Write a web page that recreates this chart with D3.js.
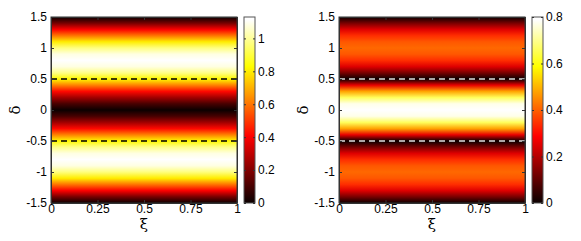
<!DOCTYPE html>
<html><head><meta charset="utf-8">
<script src="https://cdn.jsdelivr.net/npm/d3@7"></script>
<style>
body{margin:0;background:#fff;}
text{font-family:"Liberation Sans",Arial,sans-serif;font-size:12px;fill:#000;}
.greek{font-family:"DejaVu Serif","Liberation Serif",serif;font-size:15px;}
</style></head>
<body><svg id="c" width="581" height="241"></svg>
<script>
// δ sample positions
const delta = [-1.5,-1.4,-1.3,-1.2,-1.1,-1.0,-0.9,-0.8,-0.7,-0.6,-0.5,-0.4,-0.3,-0.2,-0.1,0,
  0.1,0.2,0.3,0.4,0.5,0.6,0.7,0.8,0.9,1.0,1.1,1.2,1.3,1.4,1.5];
// left panel intensity (constant along ξ)
const leftValues = [0,0.18,0.40,0.60,0.80,0.97,1.08,1.12,1.08,0.98,0.82,0.62,0.42,0.25,0.10,0,
  0.10,0.25,0.42,0.62,0.82,0.98,1.08,1.12,1.08,0.97,0.80,0.60,0.40,0.18,0];
// right panel intensity
const rightValues = [0,0.13,0.25,0.34,0.39,0.41,0.39,0.34,0.25,0.13,0,0.26,0.48,0.66,0.77,0.80,
  0.77,0.66,0.48,0.26,0,0.13,0.25,0.34,0.39,0.41,0.39,0.34,0.25,0.13,0];
const xTicks = [0,0.25,0.5,0.75,1];
const xTickLabels = ["0","0.25","0.5","0.75","1"];
const yTicks = [-1.5,-1,-0.5,0,0.5,1,1.5];
const yTickLabels = ["-1.5","-1","-0.5","0","0.5","1","1.5"];
const dashedAt = [-0.5,0.5];
const leftCbTicks = [0,0.2,0.4,0.6,0.8,1];
const leftCbLabels = ["0","0.2","0.4","0.6","0.8","1"];
const rightCbTicks = [0,0.2,0.4,0.6,0.8];
const rightCbLabels = ["0","0.2","0.4","0.6","0.8"];
const leftMax = 1.13, rightMax = 0.8;

function hot(t){
  t = Math.max(0,Math.min(1,t));
  const r = Math.min(1, (t*64+1)/24);
  const g = Math.max(0, Math.min(1, (t*64-23)/24));
  const b = Math.max(0, Math.min(1, (t*64-47)/16));
  return d3.rgb(Math.round(r*255),Math.round(g*255),Math.round(b*255)).toString();
}

const svg = d3.select("#c");
const defs = svg.append("defs");
const FONT = '"Liberation Sans",Arial,sans-serif';

function panel(id, x0, values, vmax, dashColor, cbTicks, cbLabels){
  const top=17, bottom=203, w=186;
  const x = d3.scaleLinear().domain([0,1]).range([x0, x0+w]);
  const y = d3.scaleLinear().domain([-1.5,1.5]).range([bottom, top]);
  const c = d3.scaleLinear().domain([0,vmax]).range([0,1]);
  const gid = "g"+id;
  const grad = defs.append("linearGradient").attr("id",gid)
    .attr("gradientUnits","userSpaceOnUse").attr("x1",0).attr("x2",0)
    .attr("y1",y(-1.5)).attr("y2",y(1.5));
  grad.selectAll("stop").data(delta).join("stop")
    .attr("offset",(d)=> (d+1.5)/3)
    .attr("stop-color",(d,i)=>hot(c(values[i])));
  svg.append("rect").attr("x",x(0)).attr("y",y(1.5))
    .attr("width",x(1)-x(0)).attr("height",y(-1.5)-y(1.5)).attr("fill",`url(#${gid})`);
  svg.selectAll(null).data(dashedAt).join("line")
    .attr("x1",x(0)).attr("x2",x(1)).attr("y1",d=>y(d)).attr("y2",d=>y(d))
    .attr("stroke",dashColor).attr("stroke-width",1.5).attr("stroke-dasharray","6,4");
  const ax = svg.append("g").attr("transform",`translate(0,${bottom})`)
    .call(d3.axisBottom(x).tickValues(xTicks).tickFormat((d,i)=>xTickLabels[i]).tickSizeInner(-3).tickSizeOuter(0).tickPadding(3));
  const axT = svg.append("g").attr("transform",`translate(0,${top})`)
    .call(d3.axisTop(x).tickValues(xTicks).tickFormat("").tickSizeInner(-3).tickSizeOuter(0));
  const ay = svg.append("g").attr("transform",`translate(${x(0)},0)`)
    .call(d3.axisLeft(y).tickValues(yTicks).tickFormat((d,i)=>yTickLabels[i]).tickSizeInner(-3).tickSizeOuter(0).tickPadding(4));
  const ayR = svg.append("g").attr("transform",`translate(${x(1)},0)`)
    .call(d3.axisRight(y).tickValues(yTicks).tickFormat("").tickSizeInner(-3).tickSizeOuter(0));
  [ax,axT,ay,ayR].forEach(g=>{
    g.selectAll("path").attr("stroke","#333");
    g.selectAll("line").attr("stroke","#333");
    g.selectAll("text").style("font-family",FONT).style("font-size","12px").attr("fill","#000");
  });
  ax.selectAll("text").attr("dy","0.6em");
  svg.append("rect").attr("x",x(0)).attr("y",top).attr("width",w).attr("height",bottom-top)
    .attr("fill","none").attr("stroke","#333").attr("stroke-width",1);
  svg.append("text").attr("class","greek").attr("x",(x(0)+x(1))/2).attr("y",229)
    .attr("text-anchor","middle").text("ξ");
  svg.append("text").attr("class","greek").attr("transform",`translate(${x0-31},${(top+bottom)/2}) rotate(-90)`)
    .attr("text-anchor","middle").text("δ");
  const cbx = x(1)+7, cbw = 11;
  const cy = d3.scaleLinear().domain([0,vmax]).range([bottom, top]);
  const cid = "cb"+id;
  const cg = defs.append("linearGradient").attr("id",cid).attr("x1",0).attr("x2",0).attr("y1",1).attr("y2",0);
  const stops = d3.range(0,65).map(i=>i/64);
  cg.selectAll("stop").data(stops).join("stop").attr("offset",d=>d).attr("stop-color",d=>hot(d));
  svg.append("rect").attr("x",cbx).attr("y",top).attr("width",cbw).attr("height",bottom-top)
    .attr("fill",`url(#${cid})`).attr("stroke","#555").attr("stroke-width",1);
  const cax = svg.append("g").attr("transform",`translate(${cbx+cbw},0)`)
    .call(d3.axisRight(cy).tickValues(cbTicks).tickFormat((d,i)=>cbLabels[i]).tickSizeInner(-2).tickSizeOuter(0).tickPadding(3));
  cax.select("path").remove();
  cax.selectAll("line").attr("stroke","#333");
  cax.selectAll("text").style("font-family",FONT).style("font-size","12px").attr("fill","#000");
  const caxL = svg.append("g").attr("transform",`translate(${cbx},0)`)
    .call(d3.axisLeft(cy).tickValues(cbTicks).tickFormat("").tickSizeInner(-2).tickSizeOuter(0));
  caxL.select("path").remove();
  caxL.selectAll("line").attr("stroke","#333");
}

panel("L", 51, leftValues, leftMax, "#000", leftCbTicks, leftCbLabels);
panel("R", 339, rightValues, rightMax, "#ddd", rightCbTicks, rightCbLabels);
</script></body></html>
